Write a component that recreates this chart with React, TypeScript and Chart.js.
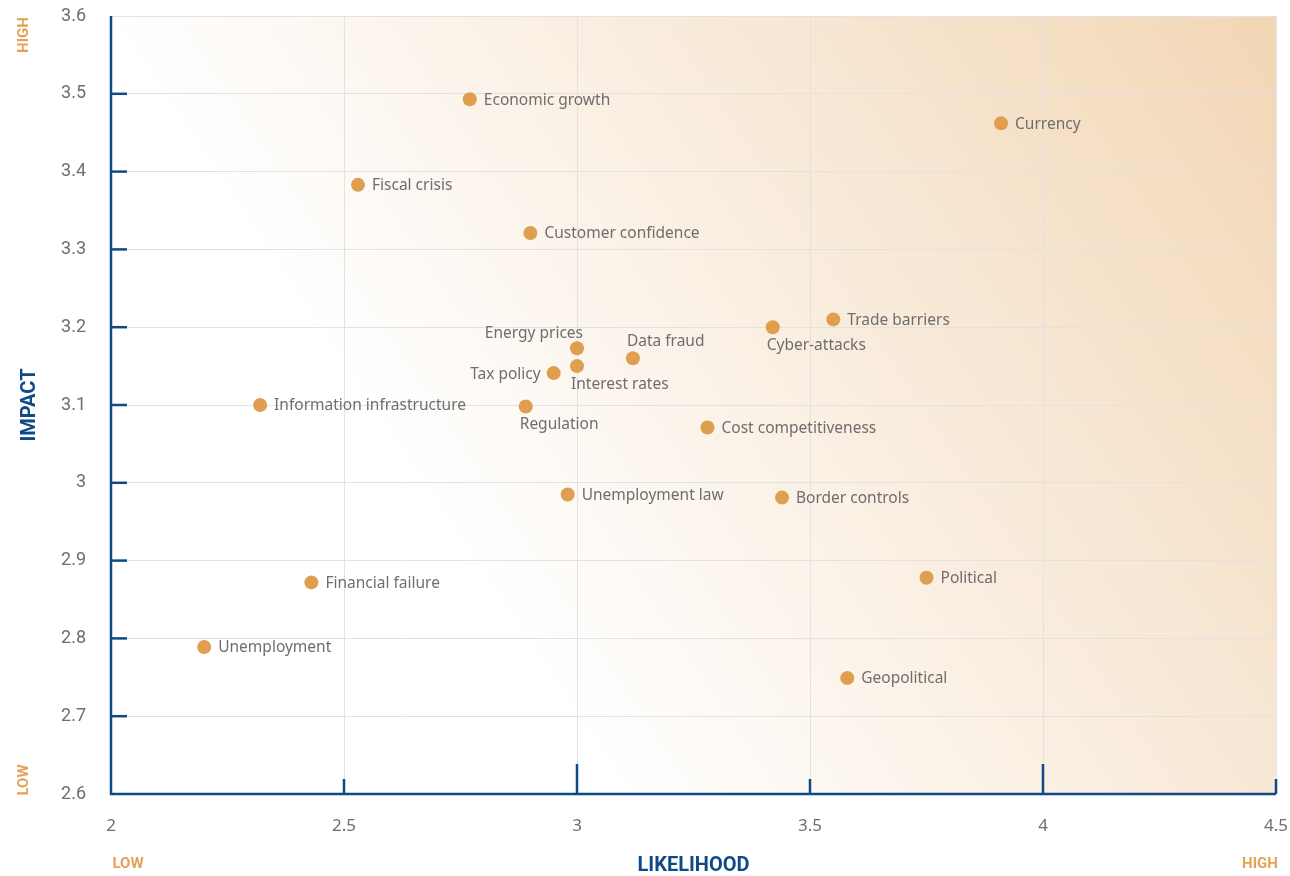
import React, { useEffect, useRef } from "react";
import { Chart, registerables } from "chart.js";

Chart.register(...registerables);

// Risk names, likelihood (x) and impact (y)
const risks = [
  "Economic growth",
  "Currency",
  "Fiscal crisis",
  "Customer confidence",
  "Trade barriers",
  "Cyber-attacks",
  "Energy prices",
  "Data fraud",
  "Interest rates",
  "Tax policy",
  "Information infrastructure",
  "Regulation",
  "Cost competitiveness",
  "Unemployment law",
  "Border controls",
  "Political",
  "Financial failure",
  "Unemployment",
  "Geopolitical",
];
const likelihood = [2.77, 3.91, 2.53, 2.9, 3.55, 3.42, 3.0, 3.12, 3.0, 2.95, 2.32, 2.89, 3.28, 2.98, 3.44, 3.75, 2.43, 2.2, 3.58];
const impact = [3.493, 3.462, 3.383, 3.321, 3.21, 3.2, 3.173, 3.16, 3.15, 3.141, 3.1, 3.098, 3.071, 2.985, 2.981, 2.878, 2.872, 2.789, 2.749];

const xTicks = [2, 2.5, 3, 3.5, 4, 4.5];
const yTicks = [2.6, 2.7, 2.8, 2.9, 3, 3.1, 3.2, 3.3, 3.4, 3.5, 3.6];
const xTickLabels = ["2", "2.5", "3", "3.5", "4", "4.5"];
const yTickLabels = ["2.6", "2.7", "2.8", "2.9", "3", "3.1", "3.2", "3.3", "3.4", "3.5", "3.6"];

// Where each name sits relative to its dot
const labelPlacement: Record<string, string> = {
  "Energy prices": "aboveLeft",
  "Data fraud": "above",
  "Interest rates": "below",
  "Tax policy": "left",
  Regulation: "below",
  "Cyber-attacks": "below",
};

const BLUE = "#0f4a86";
const ORANGE = "#e3a257";
const DOT = "#e09e4f";
const TEXT = "#6e6e6e";
const FONT = "'Noto Sans', 'DejaVu Sans', sans-serif";
const BOLD = "Roboto, 'Liberation Sans', sans-serif";

const backgroundPlugin = {
  id: "quadrantBackground",
  beforeDraw(chart: any) {
    const { ctx, chartArea: a } = chart;
    const g = ctx.createLinearGradient(a.left, a.bottom, a.right, a.top);
    g.addColorStop(0, "#ffffff");
    g.addColorStop(0.3, "#ffffff");
    g.addColorStop(1, "#f2d6b5");
    ctx.save();
    ctx.fillStyle = g;
    ctx.fillRect(a.left, a.top, a.right - a.left, a.bottom - a.top);
    ctx.restore();
  },
};

const axisPlugin = {
  id: "axisDecor",
  afterDatasetsDraw(chart: any) {
    const { ctx, chartArea: a, scales } = chart;
    const xs = scales.x;
    const ys = scales.y;
    ctx.save();
    ctx.strokeStyle = BLUE;
    ctx.lineWidth = 2.5;
    ctx.lineCap = "butt";
    // axis lines
    ctx.beginPath();
    ctx.moveTo(a.left, a.top);
    ctx.lineTo(a.left, a.bottom);
    ctx.lineTo(a.right, a.bottom);
    ctx.stroke();
    // inner ticks on x axis: long at whole numbers, short at halves
    xTicks.forEach((v) => {
      if (v === xTicks[0]) return;
      const px = xs.getPixelForValue(v);
      const len = Number.isInteger(v) ? 30 : 15;
      ctx.beginPath();
      ctx.moveTo(px, a.bottom);
      ctx.lineTo(px, a.bottom - len);
      ctx.stroke();
    });
    // inner ticks on y axis
    yTicks.forEach((v) => {
      if (v === yTicks[0] || v === yTicks[yTicks.length - 1]) return;
      const py = ys.getPixelForValue(v);
      ctx.beginPath();
      ctx.moveTo(a.left, py);
      ctx.lineTo(a.left + 16, py);
      ctx.stroke();
    });

    // tick labels
    ctx.fillStyle = TEXT;
    ctx.font = `18px ${BOLD}`;
    ctx.textAlign = "right";
    ctx.textBaseline = "middle";
    yTicks.forEach((v, i) => {
      ctx.fillText(yTickLabels[i], a.left - 25, ys.getPixelForValue(v));
    });
    ctx.font = `17px ${FONT}`;
    ctx.textAlign = "center";
    xTicks.forEach((v, i) => {
      ctx.fillText(xTickLabels[i], xs.getPixelForValue(v), a.bottom + 32);
    });

    // axis titles
    ctx.fillStyle = BLUE;
    ctx.font = `bold 20px ${BOLD}`;
    ctx.textAlign = "center";
    ctx.textBaseline = "middle";
    ctx.fillText("LIKELIHOOD", (a.left + a.right) / 2, 866);
    ctx.save();
    ctx.translate(30, (a.top + a.bottom) / 2);
    ctx.rotate(-Math.PI / 2);
    ctx.fillText("IMPACT", 0, 0);
    ctx.restore();

    // low / high markers
    ctx.fillStyle = ORANGE;
    ctx.font = `bold 15px ${BOLD}`;
    ctx.fillText("LOW", 128, 864);
    ctx.fillText("HIGH", 1260, 864);
    ctx.save();
    ctx.translate(24, 35);
    ctx.rotate(-Math.PI / 2);
    ctx.fillText("HIGH", 0, 0);
    ctx.restore();
    ctx.save();
    ctx.translate(24, 780);
    ctx.rotate(-Math.PI / 2);
    ctx.fillText("LOW", 0, 0);
    ctx.restore();

    // point labels
    const meta = chart.getDatasetMeta(0);
    ctx.fillStyle = TEXT;
    ctx.font = `15.5px ${FONT}`;
    meta.data.forEach((pt: any, i: number) => {
      const name = risks[i];
      const place = labelPlacement[name] || "right";
      const { x, y } = pt;
      ctx.textBaseline = "middle";
      if (place === "right") {
        ctx.textAlign = "left";
        ctx.fillText(name, x + 14, y + 1);
      } else if (place === "left") {
        ctx.textAlign = "right";
        ctx.fillText(name, x - 13, y + 1);
      } else if (place === "above") {
        ctx.textAlign = "left";
        ctx.fillText(name, x - 6, y - 17);
      } else if (place === "aboveLeft") {
        ctx.textAlign = "right";
        ctx.fillText(name, x + 6, y - 15);
      } else if (place === "below") {
        ctx.textAlign = "left";
        ctx.fillText(name, x - 6, y + 18);
      }
    });
    ctx.restore();
  },
};

export default function App() {
  const canvasRef = useRef<HTMLCanvasElement | null>(null);

  useEffect(() => {
    if (!canvasRef.current) return;
    const chart = new Chart(canvasRef.current, {
      type: "scatter",
      data: {
        datasets: [
          {
            label: "Risks",
            data: likelihood.map((x, i) => ({ x, y: impact[i] })),
            backgroundColor: DOT,
            borderColor: DOT,
            pointRadius: 7,
            pointHoverRadius: 7,
            borderWidth: 0,
          },
        ],
      },
      plugins: [backgroundPlugin, axisPlugin],
      options: {
        animation: false,
        responsive: false,
        maintainAspectRatio: false,
        layout: { padding: { top: 16, right: 14, left: 0, bottom: 0 } },
        plugins: {
          legend: { display: false },
          tooltip: { enabled: false },
        },
        scales: {
          x: {
            type: "linear",
            min: 2,
            max: 4.5,
            afterBuildTicks: (s: any) => {
              s.ticks = xTicks.map((v) => ({ value: v }));
            },
            afterFit: (s: any) => {
              s.height = 82;
            },
            border: { display: false },
            grid: { color: "#e2e2e2", lineWidth: 1, drawTicks: false },
            ticks: { display: false },
          },
          y: {
            type: "linear",
            min: 2.6,
            max: 3.6,
            afterBuildTicks: (s: any) => {
              s.ticks = yTicks.map((v) => ({ value: v }));
            },
            afterFit: (s: any) => {
              s.width = 111;
            },
            border: { display: false },
            grid: { color: "#e2e2e2", lineWidth: 1, drawTicks: false },
            ticks: { display: false },
          },
        },
      },
    });
    return () => chart.destroy();
  }, []);

  return (
    <div style={{ position: "absolute", left: 0, top: 0, width: 1290, height: 876, background: "#fff" }}>
      <canvas ref={canvasRef} width={1290} height={876} style={{ width: 1290, height: 876 }} />
    </div>
  );
}
